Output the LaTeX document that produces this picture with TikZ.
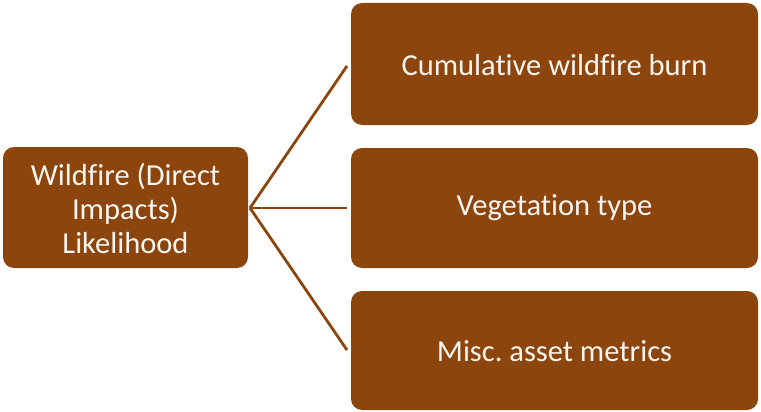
\documentclass[tikz,border=0pt]{standalone}
\usepackage{fontspec}
\setmainfont{Carlito}[Ligatures=NoCommon]
\frenchspacing
\definecolor{boxbrown}{RGB}{139,69,13}
\definecolor{boxtext}{RGB}{250,245,240}
\begin{document}
\begin{tikzpicture}[x=1pt,y=-1pt,
  box/.style={fill=boxbrown, rounded corners=11pt},
  label/.style={text=boxtext, font=\fontsize{30.5}{34}\selectfont, align=center, inner sep=0pt},
  link/.style={draw=boxbrown, line width=2.8pt}]
\useasboundingbox (0,0) rectangle (761,412);
% root
\path[box] (3,147) rectangle (248,268);
\node[label] (root) at (125.5,208) {Wildfire (Direct\\Impacts)\\Likelihood};
% children
\path[box] (351,3) rectangle (758,125);
\node[label] (c1) at (554.5,65) {Cumulative wildfire burn};
\path[box] (351,148) rectangle (758,268);
\node[label] (c2) at (554.5,208) {Vegetation type};
\path[box] (351,291) rectangle (758,410);
\node[label] (c3) at (554.5,351) {Misc. asset metrics};
% connectors
\coordinate (hub) at (250,208);
\coordinate (e1) at (347,66);
\coordinate (e2) at (347,208);
\coordinate (e3) at (347,350);
\draw[link] (hub) -- (e1);
\draw[link] (hub) -- (e2);
\draw[link] (hub) -- (e3);
\end{tikzpicture}
\end{document}
